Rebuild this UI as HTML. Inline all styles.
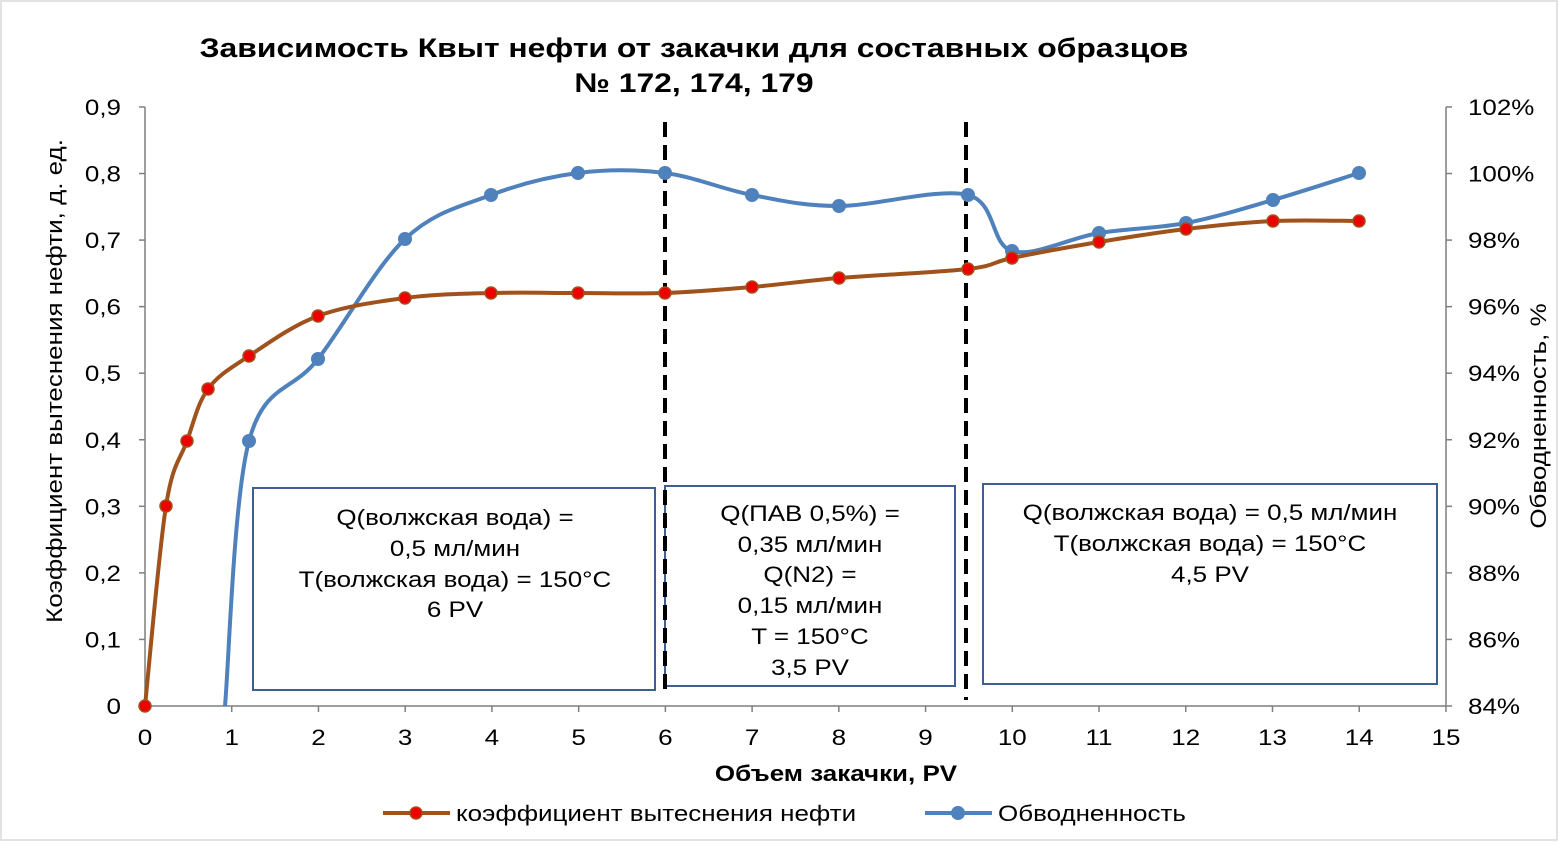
<!DOCTYPE html>
<html><head><meta charset="utf-8"><style>
body{margin:0;background:#fff}
svg text{font-family:"Liberation Sans",Arial,sans-serif;fill:#000}
</style></head><body>
<svg id="s" width="1559" height="842" xmlns="http://www.w3.org/2000/svg">
<rect x="1" y="1" width="1556" height="839" fill="#fff" stroke="#d9d9d9" stroke-width="1.5"/>
<text x="694" y="57" font-size="27" font-weight="bold" text-anchor="middle">Зависимость Квыт нефти от закачки для составных образцов</text>
<text x="694" y="92" font-size="27" font-weight="bold" text-anchor="middle">№ 172, 174, 179</text>
<g stroke="#7f7f7f" stroke-width="1.5" fill="none">
<line x1="145" y1="107" x2="145" y2="706"/>
<line x1="1446" y1="107" x2="1446" y2="706"/>
<line x1="145" y1="706" x2="1446" y2="706"/>
</g>
<g id="ticks" stroke="#7f7f7f" stroke-width="1.5"></g>
<g id="lbl" font-size="22"></g>
<text transform="translate(62,381) rotate(-90)" font-size="22" text-anchor="middle">Коэффициент вытеснения нефти, д. ед.</text>
<text transform="translate(1546,416) rotate(-90)" font-size="22" text-anchor="middle">Обводненность, %</text>
<text x="836" y="781" font-size="22" font-weight="bold" text-anchor="middle">Объем закачки,   PV</text>
<g fill="#fff" stroke="#3e5f8f" stroke-width="2">
<rect x="253" y="488" width="402" height="202"/>
<rect x="665" y="486" width="290" height="200"/>
<rect x="983" y="484" width="454" height="200"/>
</g>
<g font-size="22" text-anchor="middle">
<text x="455" y="525">Q(волжская вода) =</text>
<text x="455" y="556">0,5 мл/мин</text>
<text x="455" y="587">T(волжская вода) = 150°C</text>
<text x="455" y="617">6 PV</text>
<text x="810" y="521">Q(ПАВ 0,5%) =</text>
<text x="810" y="552">0,35 мл/мин</text>
<text x="810" y="582">Q(N2) =</text>
<text x="810" y="613">0,15 мл/мин</text>
<text x="810" y="644">T = 150°C</text>
<text x="810" y="675">3,5 PV</text>
<text x="1210" y="520">Q(волжская вода) = 0,5 мл/мин</text>
<text x="1210" y="551">T(волжская вода) = 150°C</text>
<text x="1210" y="582">4,5 PV</text>
</g>
<g stroke="#000" stroke-width="4" stroke-dasharray="15,8">
<line x1="665" y1="122" x2="665" y2="697"/>
<line x1="966" y1="122" x2="966" y2="700"/>
</g>
<g id="series"></g>
<g font-size="22">
<line x1="383" y1="813" x2="450" y2="813" stroke="#a0521c" stroke-width="4"/>
<circle cx="416" cy="813" r="6" fill="#e00" stroke="#a0521c" stroke-width="1.5"/>
<text x="456" y="821">коэффициент вытеснения нефти</text>
<line x1="925" y1="813" x2="992" y2="813" stroke="#4f81bd" stroke-width="4"/>
<circle cx="958" cy="813" r="7" fill="#4f81bd"/>
<text x="998" y="821">Обводненность</text>
</g>
</svg>
<script>
var NS="http://www.w3.org/2000/svg";
function el(p,t,a,txt){var e=document.createElementNS(NS,t);for(var k in a)e.setAttribute(k,a[k]);if(txt!=null)e.textContent=txt;document.getElementById(p).appendChild(e);return e;}
for(var i=0;i<=15;i++){var x=145+i*86.73;el("ticks","line",{x1:x,y1:706,x2:x,y2:712});el("lbl","text",{x:x,y:745,"text-anchor":"middle"},String(i));}
var L=["0","0,1","0,2","0,3","0,4","0,5","0,6","0,7","0,8","0,9"];
for(var j=0;j<=9;j++){var y=706-j*66.56;el("ticks","line",{x1:139,y1:y,x2:145,y2:y});el("ticks","line",{x1:1446,y1:y,x2:1452,y2:y});
el("lbl","text",{x:121,y:y+8,"text-anchor":"end"},L[j]);el("lbl","text",{x:1468,y:y+8},(84+2*j)+"%");}
function path(P){var d="M"+P[0][0]+","+P[0][1];for(var i=0;i<P.length-1;i++){var p0=P[i-1]||P[i],p1=P[i],p2=P[i+1],p3=P[i+2]||p2;
d+=" C"+(p1[0]+(p2[0]-p0[0])/6)+","+(p1[1]+(p2[1]-p0[1])/6)+" "+(p2[0]-(p3[0]-p1[0])/6)+","+(p2[1]-(p3[1]-p1[1])/6)+" "+p2[0]+","+p2[1];}return d;}
var O=[[145,706],[166,506],[187,441],[208,389],[249,356],[318,316],[405,298],[491,293],[578,293],[665,293],[752,287],[839,278],[968,269],[1012,258],[1099,242],[1186,229],[1273,221],[1359,221]];
var B=[[225,706],[249,441],[318,359],[405,239],[491,195],[578,173],[665,173],[752,195],[839,206],[968,195],[1012,251],[1099,233],[1186,223],[1273,200],[1359,173]];
el("series","path",{d:path(B),fill:"none",stroke:"#4f81bd","stroke-width":4});
B.slice(1).forEach(function(p){el("series","circle",{cx:p[0],cy:p[1],r:7,fill:"#4f81bd"});});
el("series","path",{d:path(O),fill:"none",stroke:"#a0521c","stroke-width":4});
O.forEach(function(p){el("series","circle",{cx:p[0],cy:p[1],r:6,fill:"#e00",stroke:"#a0521c","stroke-width":1.5});});
var ts=document.querySelectorAll("svg text");
for(var k=0;k<ts.length;k++){var w=ts[k].getComputedTextLength();ts[k].setAttribute("textLength",(w*1.18).toFixed(1));ts[k].setAttribute("lengthAdjust","spacingAndGlyphs");}
</script>
</body></html>
